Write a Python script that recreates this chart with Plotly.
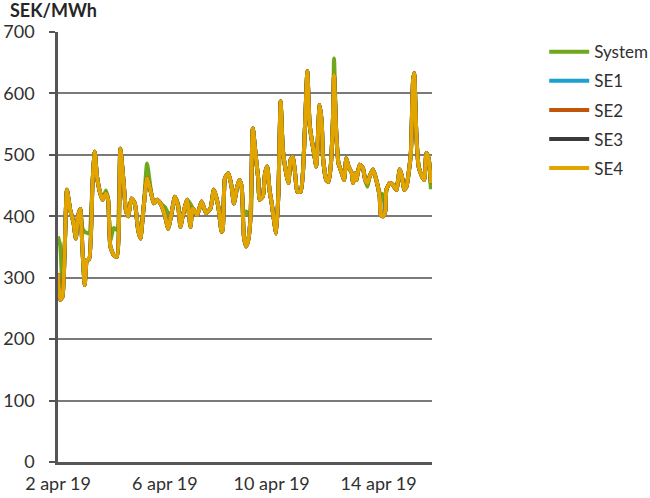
import pandas as pd
import plotly.graph_objects as go

start = pd.Timestamp("2019-04-02 00:00")

# Hours after 2 apr 2019 00:00 at which values were read
hours = [0, 2, 4, 6, 8, 11, 14, 16, 18, 20,
         22, 24, 26, 28, 31, 33, 35, 38, 40, 43,
         45, 47, 50, 53, 56, 59, 61, 63, 66, 69,
         72, 74, 77, 80, 83, 86, 89, 92, 96, 99,
         102, 105, 108, 110, 112, 116, 119, 121, 125, 129,
         133, 137, 140, 144, 147, 148, 150, 153, 156, 158,
         161, 163, 165, 167, 169, 171, 173, 175, 178, 180,
         181, 184, 186, 188, 190, 192, 194, 196, 198, 200,
         202, 205, 207, 209, 211, 213, 215, 218, 220, 222,
         224, 226, 228, 230, 232, 233, 235, 237, 238, 241,
         243, 245, 247, 248, 250, 252, 255, 257, 259, 261,
         264, 265, 267, 268, 271, 274, 276, 278, 280, 283,
         286, 289, 290, 292, 294, 295, 298, 301, 304, 307,
         309, 311, 313, 315, 317, 319, 320, 322, 324, 327,
         329, 331, 333, 335]

se4 = [307, 264, 269, 345, 443, 410, 389, 364, 400, 412,
       345, 288, 329, 330, 454, 505, 465, 437, 427, 437,
       427, 351, 337, 334, 510, 454, 410, 400, 429, 421,
       378, 364, 416, 462, 443, 421, 427, 421, 402, 380,
       405, 432, 416, 383, 400, 427, 383, 413, 402, 424,
       405, 413, 443, 416, 375, 378, 462, 470, 448, 421,
       448, 459, 448, 367, 351, 362, 400, 543, 492, 459,
       427, 432, 470, 481, 443, 421, 394, 372, 437, 587,
       508, 470, 454, 492, 497, 470, 440, 440, 470, 551,
       636, 551, 524, 503, 481, 508, 581, 551, 497, 459,
       456, 481, 557, 630, 535, 486, 470, 459, 494, 481,
       470, 454, 470, 459, 484, 478, 459, 454, 465, 476,
       459, 432, 402, 400, 408, 443, 454, 451, 443, 476,
       465, 443, 448, 470, 503, 622, 633, 530, 481, 465,
       459, 503, 494, 454]

system = [367, 352, 285, 345, 443, 410, 389, 364, 400, 412,
          380, 375, 373, 372, 454, 505, 465, 437, 427, 442,
          427, 360, 381, 378, 510, 454, 410, 400, 429, 421,
          378, 364, 416, 486, 448, 421, 427, 421, 415, 405,
          405, 432, 420, 395, 400, 427, 420, 413, 402, 424,
          405, 413, 443, 416, 375, 378, 462, 470, 448, 421,
          448, 459, 448, 400, 408, 405, 400, 543, 492, 459,
          427, 432, 470, 481, 443, 421, 394, 372, 437, 587,
          508, 470, 454, 492, 497, 470, 440, 440, 470, 551,
          636, 551, 524, 503, 481, 508, 581, 551, 497, 459,
          456, 481, 557, 657, 535, 486, 470, 459, 494, 481,
          470, 454, 470, 459, 484, 478, 459, 448, 465, 476,
          459, 437, 437, 435, 408, 443, 454, 451, 443, 476,
          465, 443, 448, 470, 503, 622, 633, 530, 481, 465,
          459, 503, 494, 444]

# Swedish bidding areas coincided with SE4 over the period
se1 = list(se4)
se2 = list(se4)
se3 = list(se4)

series_names = ["System", "SE1", "SE2", "SE3", "SE4"]
series_values = [system, se1, se2, se3, se4]
series_colors = ["#6FA81C", "#1BA1D0", "#C0560B", "#3A3A3A", "#E2A500"]

tick_dates = ["2019-04-02", "2019-04-06", "2019-04-10", "2019-04-14"]
tick_labels = ["2 apr 19", "6 apr 19", "10 apr 19", "14 apr 19"]

times = [start + pd.Timedelta(hours=h) for h in hours]

FONT = "Lato"
TXT = "#303030"

fig = go.Figure()
for i, (name, vals, col) in enumerate(zip(series_names, series_values, series_colors)):
    fig.add_trace(go.Scatter(
        x=times, y=vals, name=name, mode="lines",
        line=dict(color=col, width=4, shape="spline", smoothing=0.5),
        legendgroup=name,
    ))

fig.update_layout(
    width=650, height=498,
    margin=dict(l=58, r=218, t=32, b=36, autoexpand=False),
    paper_bgcolor="white", plot_bgcolor="white",
    font=dict(family=FONT, size=18, color=TXT),
    showlegend=True,
    legend=dict(x=1.30, xanchor="left", y=0.995, yanchor="top",
                font=dict(family=FONT, size=17, color=TXT),
                traceorder="grouped", tracegroupgap=4,
                itemwidth=40, bgcolor="rgba(0,0,0,0)"),
    annotations=[dict(text="<b>SEK/MWh</b>", xref="paper", yref="paper",
                      x=-0.134, y=1.051, xanchor="left", yanchor="middle",
                      showarrow=False, font=dict(family=FONT, size=18, color="#262626"))],
)

fig.update_xaxes(
    type="date",
    range=[start, start + pd.Timedelta(days=14)],
    tickmode="array", tickvals=tick_dates, ticktext=tick_labels,
    showgrid=False, zeroline=False,
    showline=True, linecolor="#555555", linewidth=2.5,
    ticks="", ticklabelstandoff=4,
    tickfont=dict(family=FONT, size=18, color=TXT),
)
fig.update_yaxes(
    range=[0, 700], dtick=100, tick0=0,
    showgrid=True, gridcolor="#7A7A7A", gridwidth=1.5,
    zeroline=False,
    showline=True, linecolor="#555555", linewidth=2.5,
    ticks="outside", ticklen=6, tickcolor="#555555", tickwidth=2,
    ticklabelstandoff=11,
    tickfont=dict(family=FONT, size=18, color=TXT),
)

fig.write_html("out.html",
               config={"displayModeBar": False},
               post_script="document.body.style.margin='0';document.body.style.padding='0';")
